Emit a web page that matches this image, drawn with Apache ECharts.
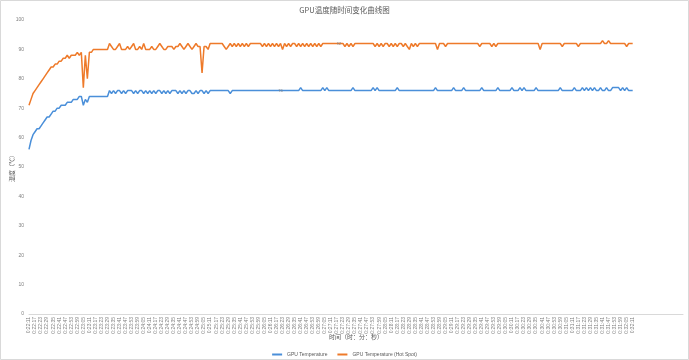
<!DOCTYPE html>
<html><head><meta charset="utf-8">
<script src="https://cdn.jsdelivr.net/npm/echarts@6/dist/echarts.min.js"></script>
<style>html,body{margin:0;padding:0;background:#fff}#c{width:689px;height:360px}</style>
</head><body><div id="c"></div>
<script>
const chartTitle = 'GPU温度随时间变化曲线图';
const xAxisName = '时间（时：分：秒）';
const yAxisName = '温度（℃）';
const seriesNames = ['GPU Temperature', 'GPU Temperature (Hot Spot)'];
const timeStart = '0:22:11';
const timeStepSeconds = 2;
const yMin = 0, yMax = 100, yStep = 10;

const gpuTemp = [
56,59,61,62,63,63,64,65,66,67,67,68,69,69,70,70,71,71,71,72,
72,72,73,73,73,74,74,71,73,72,74,74,74,74,74,74,74,74,74,74,
76,75,76,75,76,76,75,76,75,76,76,76,75,76,75,76,76,75,76,75,
76,75,76,75,76,76,75,76,75,76,75,76,76,76,75,76,75,76,75,76,
76,75,75,76,75,76,76,75,76,75,76,76,76,76,76,76,76,76,76,76,
75,76,76,76,76,76,76,76,76,76,76,76,76,76,76,76,76,76,76,76,
76,76,76,76,76,76,76,76,76,76,76,76,76,76,76,77,76,76,76,76,
76,76,76,76,76,76,77,76,77,76,76,76,76,76,76,76,76,76,76,76,
76,77,76,76,76,76,76,76,76,76,76,77,76,77,76,76,76,76,76,76,
76,76,76,77,76,76,76,76,76,76,76,76,76,76,76,76,76,76,76,76,
76,76,77,76,76,76,76,76,76,76,76,77,76,76,76,76,77,76,76,76,
76,76,76,76,76,77,76,76,76,76,76,76,76,77,76,76,76,76,76,76,
77,76,76,76,77,76,77,76,76,76,76,76,77,76,76,76,76,76,76,76,
76,76,76,76,77,76,76,76,76,76,76,77,76,76,76,77,76,77,76,77,
76,77,76,76,77,76,76,77,76,76,77,77,77,77,76,77,76,77,76,76,
76
];
const hotSpotTemp = [
71,73,75,76,77,78,79,80,81,82,83,84,84,85,85,86,86,87,87,88,
87,88,88,88,89,88,89,77,88,80,89,89,90,90,90,90,90,90,90,90,
92,91,90,90,91,92,90,90,90,91,90,91,92,90,90,91,90,92,90,90,
90,91,90,90,91,92,91,90,90,91,91,91,90,91,91,92,91,90,91,92,
91,90,91,92,91,91,82,91,91,90,92,92,92,92,92,92,92,91,90,91,
92,91,92,91,92,91,92,91,92,91,92,92,92,92,92,92,91,92,91,92,
91,92,91,92,91,92,90,92,91,92,91,92,92,91,92,91,92,91,92,91,
92,91,92,91,92,91,92,92,92,92,92,92,92,92,92,92,92,91,92,91,
92,91,92,92,92,92,92,92,92,92,92,92,91,92,91,92,91,92,92,91,
92,91,92,91,92,92,91,92,91,90,92,91,92,91,92,92,92,92,92,92,
92,92,92,90,92,92,92,91,92,92,92,92,92,92,92,92,92,92,92,92,
92,92,92,92,91,92,92,92,92,92,91,92,91,92,92,92,92,92,92,92,
92,92,92,92,92,92,92,92,92,92,92,92,92,92,90,92,92,92,92,92,
92,92,92,92,92,91,92,92,92,92,92,92,92,91,92,92,92,92,92,92,
92,92,92,92,92,93,92,92,93,92,92,92,92,92,92,92,92,91,92,92,
92
];
// single data labels shown in the original chart: [index, value]
const gpuLabelPoint = [125, 76];
const hotSpotLabelPoint = [154, 92];
const padCategories = 25;

// build time categories
function toSec(s){const p=s.split(':').map(Number);return p[0]*3600+p[1]*60+p[2];}
function fmt(t){const h=Math.floor(t/3600),m=Math.floor(t/60)%60,s=t%60;return h+':'+String(m).padStart(2,'0')+':'+String(s).padStart(2,'0');}
const categories = [];
for (let i=0;i<gpuTemp.length;i++) categories.push(fmt(toSec(timeStart)+i*timeStepSeconds));
for (let i=0;i<padCategories;i++) categories.push('');

const FF = '"Noto Sans CJK SC", "Noto Sans", sans-serif';
const FL = '"Liberation Sans", Arial, sans-serif';
const blue = '#4A8FD9', orange = '#EE7A2A';
const chart = echarts.init(document.getElementById('c'), null, {renderer:'canvas'});
function labelMP(pt){
  return {symbol:'circle',symbolSize:1,itemStyle:{color:'rgba(0,0,0,0)'},
    label:{show:true,position:'inside',formatter:'{c}',fontSize:4,color:'#808080',fontFamily:FL},
    data:[{coord:[pt[0],pt[1]],value:pt[1]}]};
}
chart.setOption({
  animation:false,
  backgroundColor:'#fff',
  graphic:[{type:'rect',shape:{x:0.5,y:0.5,width:688,height:359},style:{fill:'none',stroke:'#d9d9d9',lineWidth:1},silent:true}],
  title:{text:chartTitle,left:'center',top:1,textStyle:{fontSize:7.5,fontWeight:'normal',color:'#595959',fontFamily:FF}},
  legend:{top:347,left:'center',itemWidth:10,itemHeight:2,itemGap:10,icon:'rect',
    textStyle:{fontSize:5,color:'#595959',fontFamily:FL},data:seriesNames},
  grid:{left:29,right:6,top:20,bottom:46,outerBoundsMode:'none'},
  xAxis:{type:'category',data:categories,boundaryGap:false,
    name:xAxisName,nameLocation:'middle',nameGap:20,nameMoveOverlap:false,
    nameTextStyle:{fontSize:6,color:'#595959',fontFamily:FF},
    axisLine:{lineStyle:{color:'#d9d9d9',width:1}},axisTick:{show:false},
    axisLabel:{interval:2,rotate:90,fontSize:5,color:'#808080',margin:3,fontFamily:FL},
    splitLine:{show:false}},
  yAxis:{type:'value',min:yMin,max:yMax,interval:yStep,
    name:yAxisName,nameLocation:'middle',nameGap:14,nameMoveOverlap:false,
    nameTextStyle:{fontSize:6,color:'#595959',fontFamily:FF},
    axisLine:{show:false},axisTick:{show:false},splitLine:{show:false},
    axisLabel:{fontSize:5,color:'#808080',margin:5,fontFamily:FL}},
  series:[
    {name:seriesNames[0],type:'line',data:gpuTemp,showSymbol:false,symbol:'none',
     lineStyle:{color:blue,width:1.5},itemStyle:{color:blue},markPoint:labelMP(gpuLabelPoint)},
    {name:seriesNames[1],type:'line',data:hotSpotTemp,showSymbol:false,symbol:'none',
     lineStyle:{color:orange,width:1.5},itemStyle:{color:orange},markPoint:labelMP(hotSpotLabelPoint)}
  ]
});
</script></body></html>
